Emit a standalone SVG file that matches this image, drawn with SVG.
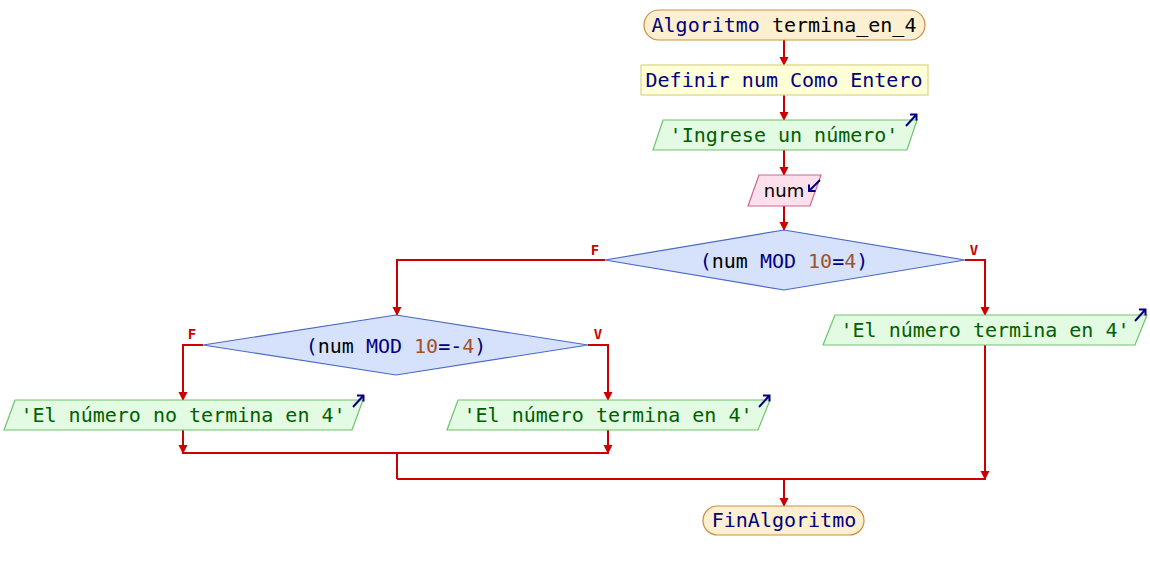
<svg xmlns="http://www.w3.org/2000/svg" width="1150" height="570" viewBox="0 0 1150 570">
<style>
.t{font-family:"DejaVu Sans Mono","Liberation Mono",monospace;font-size:20px;text-anchor:middle}
.kw{fill:#000080}.id{fill:#000000}.str{fill:#006000}.num{fill:#a0522d}
.term{fill:#fdf0d0;stroke:#c8903c;stroke-width:1.2}
.def{fill:#ffffd8;stroke:#d8d488;stroke-width:1.2}
.out{fill:#e2fbe2;stroke:#6cc46c;stroke-width:1.2}
.inp{fill:#fde0ec;stroke:#c86890;stroke-width:1.2}
.dec{fill:#d6e2fb;stroke:#4a68c4;stroke-width:1.2}
.c{fill:none;stroke:#cc0000;stroke-width:2}
.ca{fill:none;stroke:#cc0000;stroke-width:2;marker-end:url(#ah)}
.ic{fill:none;stroke:#000080;stroke-width:2}
.lb{font-family:"DejaVu Sans Mono","Liberation Mono",monospace;font-size:14px;font-weight:bold;fill:#cc0000;text-anchor:middle}
</style>
<defs>
<marker id="ah" markerUnits="userSpaceOnUse" markerWidth="10" markerHeight="10" refX="9" refY="5" orient="auto">
<path d="M0,0.5 L9,5 L0,9.5 z" fill="#cc0000"/>
</marker>
</defs>
<g id="connectors">
<path class="ca" d="M784,40 V66"/>
<path class="ca" d="M784,95 V121"/>
<path class="ca" d="M784,150 V176"/>
<path class="ca" d="M784,206 V231"/>
<path class="ca" d="M965,260 H985 V316"/>
<path class="ca" d="M605,260 H397 V316"/>
<path class="ca" d="M203,345 H183 V401"/>
<path class="ca" d="M588,345 H608 V401"/>
<path class="ca" d="M183,430 V454"/>
<path class="ca" d="M608,430 V454"/>
<path class="c" d="M183,453 H608"/>
<path class="c" d="M397,453 V479"/>
<path class="ca" d="M985,345 V480"/>
<path class="c" d="M397,479 H985"/>
<path class="ca" d="M784,479 V507"/>
<text class="lb" x="595" y="255">F</text>
<text class="lb" x="974" y="255">V</text>
<text class="lb" x="192" y="339">F</text>
<text class="lb" x="598" y="339">V</text>
</g>
<g id="start">
<rect class="term" x="644" y="10" width="281" height="30" rx="15"/>
<text class="t" x="784" y="32"><tspan class="kw">Algoritmo</tspan><tspan class="id"> termina_en_4</tspan></text>
</g>
<g id="define">
<rect class="def" x="641" y="65" width="287" height="30"/>
<text class="t kw" x="784" y="87">Definir num Como Entero</text>
</g>
<g id="out1">
<polygon class="out" points="663,120 917,120 907,150 653,150"/>
<text class="t str" x="784" y="142">'Ingrese un número'</text>
<path class="ic" d="M906,126 L916,115 M910,114.5 L916.5,114.5 L916.5,120.5"/>
</g>
<g id="in1">
<polygon class="inp" points="759,175 821,175 810,206 748,206"/>
<text class="t id" x="784" y="197" style="font-family:'DejaVu Sans','Liberation Sans',sans-serif;font-size:18px">num</text>
<path class="ic" d="M820,180 L809,191 M809,184.5 L809,191 L815.5,191"/>
</g>
<g id="dec1">
<polygon class="dec" points="784,230 965,260 784,290 605,260"/>
<text class="t" x="784" y="268"><tspan class="kw">(</tspan><tspan class="id">num </tspan><tspan class="kw">MOD </tspan><tspan class="num">10</tspan><tspan class="kw">=</tspan><tspan class="num">4</tspan><tspan class="kw">)</tspan></text>
</g>
<g id="dec2">
<polygon class="dec" points="396,315 588,345 396,375 203,345"/>
<text class="t" x="396" y="353"><tspan class="kw">(</tspan><tspan class="id">num </tspan><tspan class="kw">MOD </tspan><tspan class="num">10</tspan><tspan class="kw">=-</tspan><tspan class="num">4</tspan><tspan class="kw">)</tspan></text>
</g>
<g id="out2">
<polygon class="out" points="835,315 1147,315 1135,345 823,345"/>
<text class="t str" x="985" y="337">'El número termina en 4'</text>
<path class="ic" d="M1135,321 L1145,310 M1139,309.5 L1145.5,309.5 L1145.5,315.5"/>
</g>
<g id="out3">
<polygon class="out" points="15,400 363,400 352,430 4,430"/>
<text class="t str" x="183" y="422">'El número no termina en 4'</text>
<path class="ic" d="M353,407 L363,396 M357,395.5 L363.5,395.5 L363.5,401.5"/>
</g>
<g id="out4">
<polygon class="out" points="458,400 770,400 758,430 447,430"/>
<text class="t str" x="608" y="422">'El número termina en 4'</text>
<path class="ic" d="M759,407 L769,396 M763,395.5 L769.5,395.5 L769.5,401.5"/>
</g>
<g id="end">
<rect class="term" x="703" y="506" width="161" height="29" rx="14.5"/>
<text class="t kw" x="784" y="527">FinAlgoritmo</text>
</g>
</svg>
